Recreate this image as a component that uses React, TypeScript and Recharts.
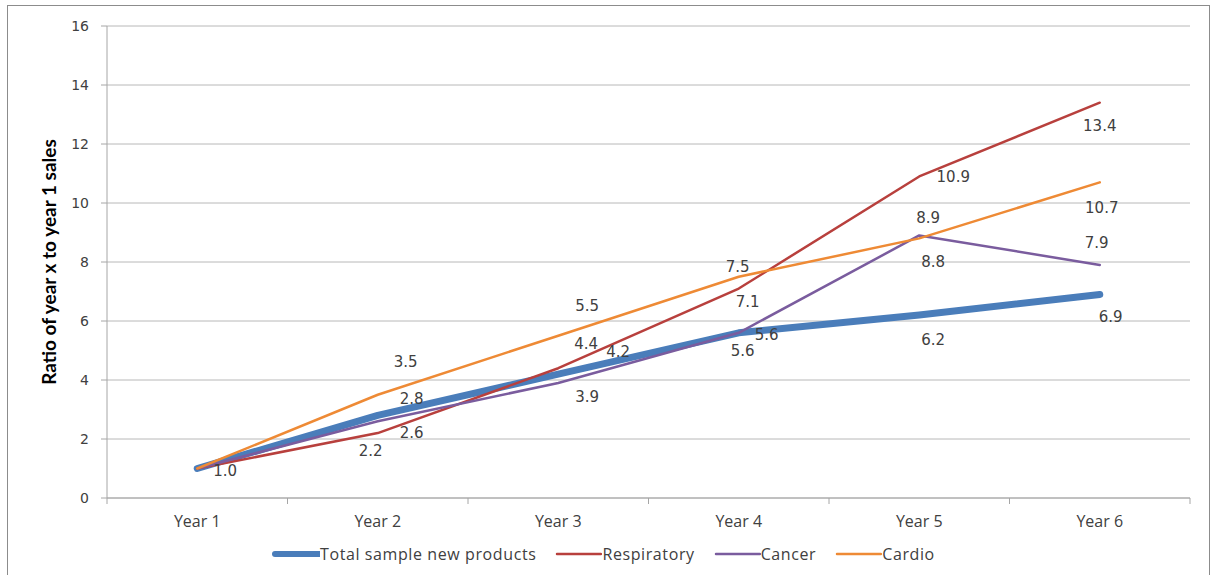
import React from 'react';
import { LineChart, Line, XAxis, YAxis, CartesianGrid } from 'recharts';

const years = ['Year 1', 'Year 2', 'Year 3', 'Year 4', 'Year 5', 'Year 6'];
const totalSample = [1.0, 2.8, 4.2, 5.6, 6.2, 6.9];
const respiratory = [1.0, 2.2, 4.4, 7.1, 10.9, 13.4];
const cancer = [1.0, 2.6, 3.9, 5.6, 8.9, 7.9];
const cardio = [1.0, 3.5, 5.5, 7.5, 8.8, 10.7];
const yTicks = [0, 2, 4, 6, 8, 10, 12, 14, 16];

const data = years.map((year, i) => ({
  year,
  total: totalSample[i],
  respiratory: respiratory[i],
  cancer: cancer[i],
  cardio: cardio[i],
}));

// hand placed data labels, like the original (dx, dy from the point)
type Off = [number, number] | null;
const LABEL_OFFSETS: Record<string, Off[]> = {
  total: [[28, 2], [34, -16], [60, -22], [28, 2], [14, 25], [11, 23]],
  respiratory: [null, [-7, 18], [28, -24], [9, 13], [34, 1], [0, 23]],
  cancer: [null, [34, 12], [29, 14], [4, 18], [9, -17], [-3, -22]],
  cardio: [null, [28, -33], [29, -30], [-1, -10], [14, 24], [2, 26]],
};

const SERIES = [
  { key: 'total', name: 'Total sample new products', color: '#4A7DBA', width: 7 },
  { key: 'respiratory', name: 'Respiratory', color: '#B8403D', width: 2.5 },
  { key: 'cancer', name: 'Cancer', color: '#7A5C9E', width: 2.5 },
  { key: 'cardio', name: 'Cardio', color: '#EE8A35', width: 2.5 },
];

const HALF_BAND = 90.25;
const AXIS_GRAY = '#a6a6a6';
const TEXT = '#404040';

const renderLabel = (key: string) => (props: any) => {
  const { x, y, value, index } = props;
  const off = LABEL_OFFSETS[key][index];
  if (!off || x == null) return null;
  return (
    <text
      key={`${key}-${index}`}
      x={x + off[0]}
      y={y + off[1]}
      textAnchor="middle"
      dominantBaseline="central"
      fontFamily="DejaVu Sans"
      fontSize={15}
      fill={TEXT}
    >
      {Number(value).toFixed(1)}
    </text>
  );
};

const XTick = (props: any) => {
  const { x, y, payload, index } = props;
  return (
    <g>
      <line x1={x - HALF_BAND} x2={x - HALF_BAND} y1={y} y2={y + 6} stroke={AXIS_GRAY} />
      {index === years.length - 1 && (
        <line x1={x + HALF_BAND} x2={x + HALF_BAND} y1={y} y2={y + 6} stroke={AXIS_GRAY} />
      )}
      <text
        x={x}
        y={y + 23}
        textAnchor="middle"
        dominantBaseline="central"
        fontFamily="Open Sans"
        fontSize={16}
        fill={TEXT}
      >
        {payload.value}
      </text>
    </g>
  );
};

const Legend = () => (
  <div
    style={{
      position: 'absolute',
      left: 272,
      top: 543,
      display: 'flex',
      fontFamily: 'Open Sans',
      fontSize: 16,
      letterSpacing: 0.6,
      color: TEXT,
    }}
  >
    {SERIES.map((s) => (
      <div key={s.key} style={{ display: 'flex', alignItems: 'center', marginRight: 18 }}>
        <svg width={48} height={20}>
          <line
            x1={3}
            x2={47}
            y1={10}
            y2={10}
            stroke={s.color}
            strokeWidth={s.key === 'total' ? 6 : 2.5}
            strokeLinecap="round"
          />
        </svg>
        <span>{s.name}</span>
      </div>
    ))}
  </div>
);

export default function App() {
  return (
    <div style={{ position: 'absolute', left: 0, top: 0, width: 1214, height: 575, background: '#fff' }}>
      <div
        style={{
          position: 'absolute',
          left: 7,
          top: 5,
          width: 1203,
          height: 575,
          border: '1px solid #8c8c8c',
          boxSizing: 'border-box',
        }}
      />
      <LineChart
        width={1214}
        height={575}
        data={data}
        margin={{ top: 26, right: 24, bottom: 47, left: 0 }}
      >
        <CartesianGrid vertical={false} stroke="#b8b8b8" />
        <XAxis
          dataKey="year"
          height={30}
          padding={{ left: HALF_BAND, right: HALF_BAND }}
          axisLine={{ stroke: AXIS_GRAY }}
          tickLine={false}
          tickSize={0}
          tickMargin={0}
          tick={<XTick />}
          interval={0}
        />
        <YAxis
          width={107}
          domain={[0, 16]}
          ticks={yTicks}
          interval={0}
          axisLine={{ stroke: AXIS_GRAY }}
          tickLine={{ stroke: AXIS_GRAY }}
          tickSize={6}
          tickMargin={12}
          tick={{ fontFamily: 'DejaVu Sans', fontSize: 14, fill: TEXT }}
          label={{
            content: () => (
              <text
                x={48}
                y={262}
                transform="rotate(-90 48 262)"
                textAnchor="middle"
                dominantBaseline="central"
                fontFamily="Lato"
                fontWeight="bold"
                fontSize={19}
                fill="#000"
              >
                Ratio of year x to year 1 sales
              </text>
            ),
          }}
        />
        {SERIES.map((s) => (
          <Line
            key={s.key}
            type="linear"
            dataKey={s.key}
            name={s.name}
            stroke={s.color}
            strokeWidth={s.width}
            strokeLinecap="round"
            strokeLinejoin="round"
            dot={false}
            activeDot={false}
            label={renderLabel(s.key)}
            isAnimationActive={false}
          />
        ))}
      </LineChart>
      <Legend />
    </div>
  );
}
